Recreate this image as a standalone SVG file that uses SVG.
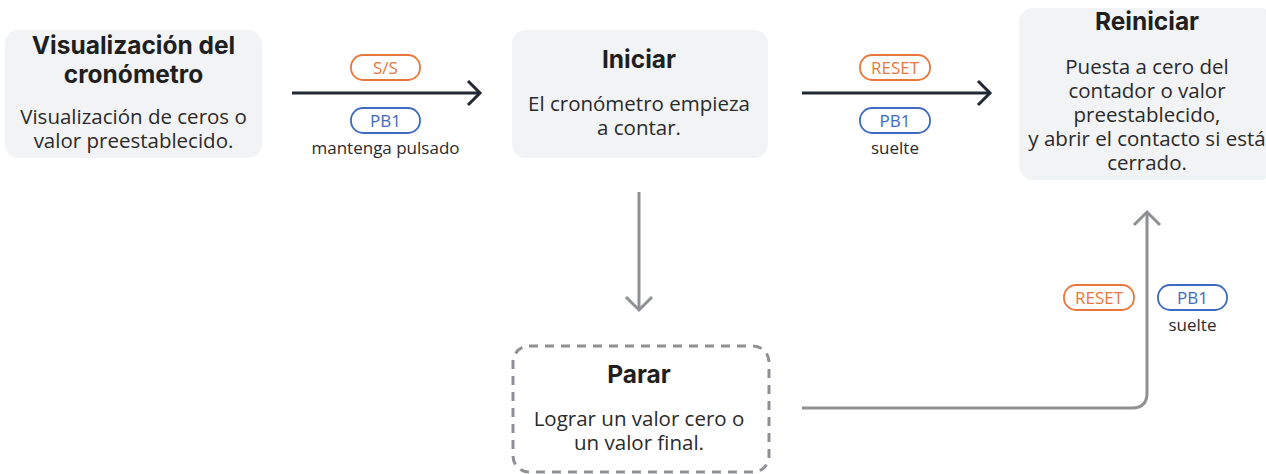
<svg xmlns="http://www.w3.org/2000/svg" width="1266" height="474" viewBox="0 0 1266 474">
<style>
.node{fill:#F2F3F5;}
.dash{fill:none;stroke:#8E9094;stroke-width:3;stroke-dasharray:9 7;}
.title{font-family:"Inter","Noto Sans",sans-serif;font-weight:700;font-size:24.5px;fill:#1F1F1F;text-anchor:middle;}
.body{font-family:"Open Sans","Noto Sans",sans-serif;font-size:20.5px;fill:#2A2A2A;text-anchor:middle;}
.small{font-family:"Open Sans","Noto Sans",sans-serif;font-size:17px;fill:#2A2A2A;text-anchor:middle;}
.pillO{fill:#fff;stroke:#E8773D;stroke-width:1.8;}
.pillB{fill:#fff;stroke:#3E6BBF;stroke-width:1.8;}
.tO{font-family:"Open Sans","Noto Sans",sans-serif;font-size:17px;fill:#E8773D;text-anchor:middle;}
.tB{font-family:"Open Sans","Noto Sans",sans-serif;font-size:17px;fill:#3E6BBF;text-anchor:middle;}
.dark{fill:none;stroke:#222833;stroke-width:3;}
.gray{fill:none;stroke:#8E9094;stroke-width:3;}
</style>
<g id="connectors">
<path class="dark" d="M292 93 H478"/>
<path class="dark" d="M468 81 L480 93 L468 105"/>
<path class="dark" d="M802 93 H988"/>
<path class="dark" d="M978 81 L990 93 L978 105"/>
<path class="gray" d="M639 192 V309"/>
<path class="gray" d="M626 297 L639 310 L652 297"/>
<path class="gray" d="M802 408 H1132 Q1147 408 1147 393 V213"/>
<path class="gray" d="M1134 225 L1147 212 L1160 225"/>
<g id="label-ss">
<rect class="pillO" x="351" y="55" width="69" height="25" rx="12"/>
<text class="tO" x="385.5" y="73.5">S/S</text>
<rect class="pillB" x="351" y="108" width="69" height="25" rx="12"/>
<text class="tB" x="385.5" y="126.5">PB1</text>
<text class="small" x="385.5" y="154">mantenga pulsado</text>
</g>
<g id="label-reset1">
<rect class="pillO" x="860" y="55" width="70" height="25" rx="12"/>
<text class="tO" x="895" y="73.5">RESET</text>
<rect class="pillB" x="860" y="108" width="70" height="25" rx="12"/>
<text class="tB" x="895" y="126.5">PB1</text>
<text class="small" x="895" y="154">suelte</text>
</g>
<g id="label-reset2">
<rect class="pillO" x="1064" y="285" width="70" height="25" rx="12"/>
<text class="tO" x="1099" y="303.5">RESET</text>
<rect class="pillB" x="1158" y="285" width="69" height="25" rx="12"/>
<text class="tB" x="1192.5" y="303.5">PB1</text>
<text class="small" x="1192.5" y="331">suelte</text>
</g>
</g>
<g id="node-visualizacion">
<rect class="node" x="5" y="30" width="257" height="128" rx="14"/>
<text class="title" x="133.5" y="54">Visualización del</text>
<text class="title" x="133.5" y="83">cronómetro</text>
<text class="body" x="133.5" y="124">Visualización de ceros o</text>
<text class="body" x="133.5" y="148">valor preestablecido.</text>
</g>
<g id="node-iniciar">
<rect class="node" x="512" y="30" width="256" height="128" rx="14"/>
<text class="title" x="639" y="68">Iniciar</text>
<text class="body" x="639" y="111">El cronómetro empieza</text>
<text class="body" x="639" y="135">a contar.</text>
</g>
<g id="node-reiniciar">
<rect class="node" x="1019" y="8" width="256" height="172" rx="14"/>
<text class="title" x="1147" y="30">Reiniciar</text>
<text class="body" x="1147" y="74">Puesta a cero del</text>
<text class="body" x="1147" y="98">contador o valor</text>
<text class="body" x="1147" y="122">preestablecido,</text>
<text class="body" x="1147" y="146">y abrir el contacto si está</text>
<text class="body" x="1147" y="170">cerrado.</text>
</g>
<g id="node-parar">
<rect class="dash" x="513" y="346" width="256" height="126" rx="16"/>
<text class="title" x="639" y="383">Parar</text>
<text class="body" x="639" y="426">Lograr un valor cero o</text>
<text class="body" x="639" y="450">un valor final.</text>
</g>
</svg>
